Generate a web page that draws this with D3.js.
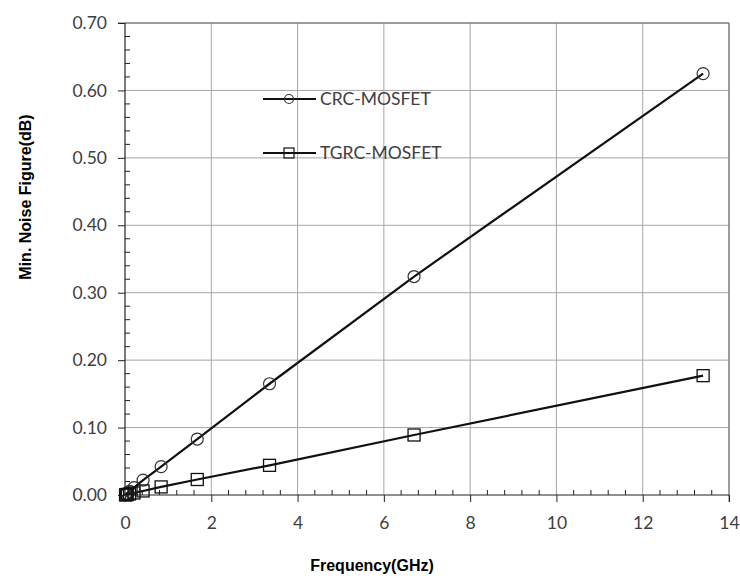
<!DOCTYPE html>
<html>
<head>
<meta charset="utf-8">
<script src="https://cdn.jsdelivr.net/npm/d3@7/dist/d3.min.js"></script>
<style>
  html, body { margin: 0; padding: 0; background: #fff; }
  svg { display: block; }
</style>
</head>
<body>
<svg id="chart" width="740" height="578"></svg>
<script>
// Frequency points (GHz), halving from the top frequency
const frequency = [13.4, 6.7, 3.35, 1.675, 0.8375, 0.419, 0.209, 0.105, 0.052, 0.026, 0.013];
// Minimum noise figure (dB) for each device
const crcNF  = [0.625, 0.324, 0.165, 0.083, 0.042, 0.022, 0.011, 0.0055, 0.0028, 0.0014, 0.0007];
const tgrcNF = [0.177, 0.089, 0.044, 0.023, 0.012, 0.006, 0.003, 0.0015, 0.0008, 0.0004, 0.0002];
const seriesNames = ["CRC-MOSFET", "TGRC-MOSFET"];
const xTicks = [0, 2, 4, 6, 8, 10, 12, 14];
const yTicks = [0, 0.1, 0.2, 0.3, 0.4, 0.5, 0.6, 0.7];

const svg = d3.select("#chart");
const L = 125, R = 729, T = 23, B = 495;

const x = d3.scaleLinear().domain([0, 14]).range([L, R]);
const y = d3.scaleLinear().domain([0, 0.7]).range([B, T]);

const tickFont = "Lato, 'Open Sans', sans-serif";
const grid = "#a6a6a6";

// gridlines
svg.append("g").selectAll("line").data(xTicks.slice(1)).join("line")
  .attr("x1", d => x(d)).attr("x2", d => x(d)).attr("y1", T).attr("y2", B)
  .attr("stroke", grid).attr("stroke-width", 1);
svg.append("g").selectAll("line").data(yTicks.slice(1)).join("line")
  .attr("x1", L).attr("x2", R).attr("y1", d => y(d)).attr("y2", d => y(d))
  .attr("stroke", grid).attr("stroke-width", 1);

// minor ticks
const xMinor = d3.range(0, 14.001, 0.4).filter(v => Math.abs(v / 2 - Math.round(v / 2)) > 1e-6);
svg.append("g").selectAll("line").data(xMinor).join("line")
  .attr("x1", d => x(d)).attr("x2", d => x(d)).attr("y1", B).attr("y2", B - 5)
  .attr("stroke", "#222").attr("stroke-width", 1);
const yMinor = d3.range(0, 0.7001, 0.02).filter(v => Math.abs(v * 10 - Math.round(v * 10)) > 1e-6);
svg.append("g").selectAll("line").data(yMinor).join("line")
  .attr("x1", L).attr("x2", L + 5).attr("y1", d => y(d)).attr("y2", d => y(d))
  .attr("stroke", "#222").attr("stroke-width", 1);

// right and top frame
svg.append("line").attr("x1", R).attr("x2", R).attr("y1", T).attr("y2", B + 7).attr("stroke", "#666");
svg.append("line").attr("x1", L - 7).attr("x2", R).attr("y1", T).attr("y2", T).attr("stroke", "#666");

// axes
const xAxis = d3.axisBottom(x).tickValues(xTicks).tickFormat(d3.format("d")).tickSize(7).tickPadding(15);
const yAxis = d3.axisLeft(y).tickValues(yTicks).tickFormat(d3.format(".2f")).tickSize(7).tickPadding(11);

const gx = svg.append("g").attr("transform", `translate(0,${B})`).call(xAxis);
const gy = svg.append("g").attr("transform", `translate(${L},0)`).call(yAxis);
[gx, gy].forEach(g => {
  g.select(".domain").attr("stroke", "#222").attr("stroke-width", 1.2);
  g.selectAll(".tick line").attr("stroke", "#222");
  g.selectAll(".tick text").attr("font-family", tickFont).attr("font-size", 17.5).attr("fill", "#404040");
});
gx.select(".domain").attr("d", `M${L},0H${R}`);
gy.select(".domain").attr("d", `M0,${B}V${T}`);

// series
const line = d3.line().x(d => x(d[0])).y(d => y(d[1]));
const crc = frequency.map((f, i) => [f, crcNF[i]]);
const tgrc = frequency.map((f, i) => [f, tgrcNF[i]]);

[crc, tgrc].forEach(data => {
  svg.append("path").datum(data).attr("d", line)
    .attr("fill", "none").attr("stroke", "#111").attr("stroke-width", 2.2);
});

svg.append("g").selectAll("circle").data(crc).join("circle")
  .attr("cx", d => x(d[0])).attr("cy", d => y(d[1])).attr("r", 6)
  .attr("fill", "none").attr("stroke", "#333").attr("stroke-width", 1.2);
svg.append("g").selectAll("rect").data(tgrc).join("rect")
  .attr("x", d => x(d[0]) - 6).attr("y", d => y(d[1]) - 6).attr("width", 12).attr("height", 12)
  .attr("fill", "none").attr("stroke", "#111").attr("stroke-width", 1.3);

// legend
const leg = svg.append("g");
[99, 153].forEach((ly, i) => {
  leg.append("line").attr("x1", 263).attr("x2", 316).attr("y1", ly).attr("y2", ly)
    .attr("stroke", "#111").attr("stroke-width", 2.2);
  if (i === 0) {
    leg.append("circle").attr("cx", 289).attr("cy", ly).attr("r", 4.5)
      .attr("fill", "none").attr("stroke", "#333").attr("stroke-width", 1.2);
  } else {
    leg.append("rect").attr("x", 284).attr("y", ly - 5).attr("width", 10).attr("height", 10)
      .attr("fill", "none").attr("stroke", "#111").attr("stroke-width", 1.2);
  }
  leg.append("text").attr("x", 320).attr("y", ly).attr("dy", "0.35em")
    .attr("font-family", tickFont).attr("font-size", 17.5).attr("fill", "#404040")
    .text(seriesNames[i]);
});

// axis titles
svg.append("text").attr("x", 372).attr("y", 571).attr("text-anchor", "middle")
  .attr("font-family", "'Liberation Sans', Arial, sans-serif").attr("font-weight", "bold")
  .attr("font-size", 16).attr("fill", "#000").text("Frequency(GHz)");
svg.append("text").attr("transform", "translate(31,197) rotate(-90)").attr("text-anchor", "middle")
  .attr("font-family", "'Liberation Sans', Arial, sans-serif").attr("font-weight", "bold")
  .attr("font-size", 16).attr("fill", "#000").text("Min. Noise Figure(dB)");
</script>
</body>
</html>
